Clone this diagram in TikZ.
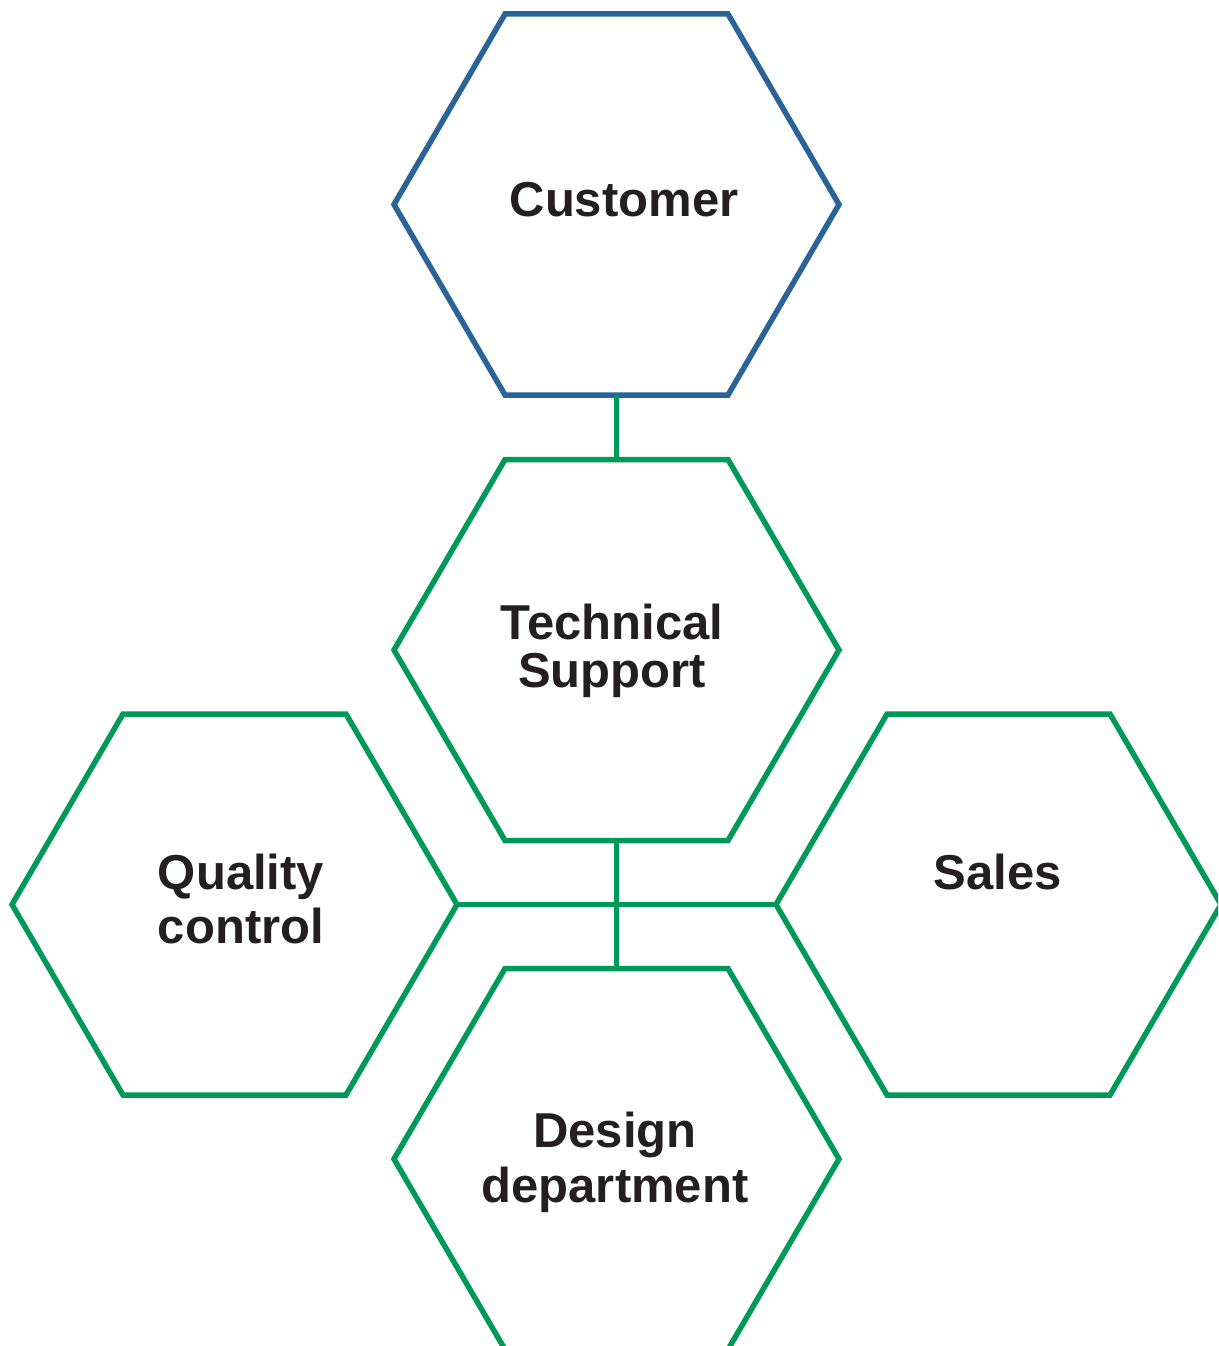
\documentclass[tikz,border=0pt]{standalone}
\usepackage{fontspec}
\setmainfont{Liberation Sans}
\definecolor{hexblue}{HTML}{2A6496}
\definecolor{hexgreen}{HTML}{00995A}
\definecolor{txt}{HTML}{231F20}
\newcommand{\hexshape}[4]{%
  \begin{scope}[shift={(#2,#3)}]
    \draw[hexline,#4] (-111.5,-190.5) -- (111.5,-190.5) -- (222.5,0) -- (111.5,190.5) -- (-111.5,190.5) -- (-222.5,0) -- cycle;
    \coordinate (#1-t) at (0,-190.5);
    \coordinate (#1-b) at (0,190.5);
    \coordinate (#1-l) at (-222.5,0);
    \coordinate (#1-r) at (222.5,0);
  \end{scope}}
\begin{document}
\begin{tikzpicture}[x=1pt,y=-1pt,
  hexline/.style={line width=5.5pt},
  link/.style={line width=5.5pt,draw=hexgreen},
  label/.style={font=\bfseries\fontsize{49}{49}\selectfont,text=txt,align=center,inner sep=0pt}]
\useasboundingbox (0,0) rectangle (1218,1346);
\clip (0,0) rectangle (1218,1346);
\hexshape{cust}{616.5}{204.5}{draw=hexblue}
\hexshape{ts}{616.5}{650}{draw=hexgreen}
\hexshape{qc}{234.5}{904.5}{draw=hexgreen}
\hexshape{sal}{998.5}{904.5}{draw=hexgreen}
\hexshape{des}{616.5}{1159}{draw=hexgreen}
\draw[link] (cust-b) -- (ts-t);
\draw[link] (ts-b) -- (des-t);
\draw[link] (qc-r) -- (sal-l);
\node[label] (custtext) at (624,200) {Customer};
\node[label,font=\bfseries\fontsize{49}{48}\selectfont] (tstext) at (612,651) {Technical\\Support};
\node[label,font=\bfseries\fontsize{49}{54}\selectfont] (qctext) at (241,899) {Quality\\control};
\node[label] (saltext) at (998,872) {Sales};
\node[label,font=\bfseries\fontsize{49}{55}\selectfont] (destext) at (615,1162) {Design\\department};
\end{tikzpicture}
\end{document}
